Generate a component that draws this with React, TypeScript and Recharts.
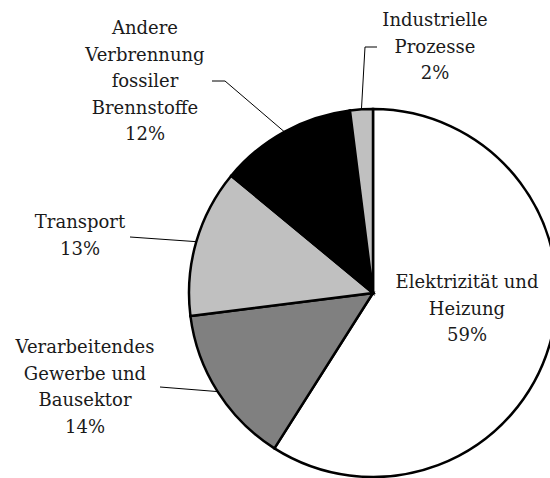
import React from "react";
import { Cell, Pie, PieChart } from "recharts";

// 排出源（上から時計回り）
const SECTORS: string[] = [
	"Elektrizität und Heizung",
	"Verarbeitendes Gewerbe und Bausektor",
	"Transport",
	"Andere Verbrennung fossiler Brennstoffe",
	"Industrielle Prozesse",
];
const SHARES: number[] = [59, 14, 13, 12, 2];
const LABEL_LINES: string[][] = [
	["Elektrizität und", "Heizung"],
	["Verarbeitendes", "Gewerbe und", "Bausektor"],
	["Transport"],
	["Andere", "Verbrennung", "fossiler", "Brennstoffe"],
	["Industrielle", "Prozesse"],
];
const FILLS: string[] = ["#ffffff", "#808080", "#c0c0c0", "#000000", "#c0c0c0"];

// ラベル位置（中心からのオフセット）
type LabelLayout = {
	text: [number, number];
	line?: [number, number][];
};
const LABEL_LAYOUT: LabelLayout[] = [
	{ text: [94, -11] },
	{ text: [-288, 54], line: [[-213, 94]] },
	{ text: [-293, -71], line: [[-243, -56]] },
	{ text: [-228, -265], line: [[-148, -212], [-161, -212]] },
	{ text: [62, -273], line: [[-8, -246], [4, -246]] },
];

const WIDTH = 550;
const HEIGHT = 478;
const CX = 373;
const CY = 293;
const RADIUS = 184;
const FONT_SIZE = 18;
const LINE_HEIGHT = 26.5;
const RADIAN = Math.PI / 180;

const data = SECTORS.map((name, i) => ({ name, value: SHARES[i] }));

const renderLabel = (props: any) => {
	const { cx, cy, midAngle, outerRadius, index, value } = props;
	const layout = LABEL_LAYOUT[index];
	const lines = [...LABEL_LINES[index], `${value}%`];
	const tx = cx + layout.text[0];
	const ty = cy + layout.text[1];
	let path = "";
	if (layout.line) {
		const ex = cx + outerRadius * Math.cos(-midAngle * RADIAN);
		const ey = cy + outerRadius * Math.sin(-midAngle * RADIAN);
		path = `M${ex},${ey}`;
		for (const [px, py] of layout.line) {
			path += ` L${cx + px},${cy + py}`;
		}
	}
	return (
		<g key={`label-${index}`}>
			{path && <path d={path} stroke="#000" strokeWidth={1} fill="none" />}
			<text
				x={tx}
				y={ty}
				textAnchor="middle"
				fontFamily="'DejaVu Serif', serif"
				fontSize={FONT_SIZE}
				fill="#1a1a1a"
			>
				{lines.map((line, i) => (
					<tspan key={line} x={tx} y={ty + i * LINE_HEIGHT} dy="0.35em">
						{line}
					</tspan>
				))}
			</text>
		</g>
	);
};

export default function App() {
	return (
		<div
			style={{
				position: "absolute",
				left: 0,
				top: 0,
				width: WIDTH,
				height: HEIGHT,
				background: "#fff",
			}}
		>
			<PieChart
				width={WIDTH}
				height={HEIGHT}
				margin={{ top: 0, right: 0, bottom: 0, left: 0 }}
			>
				<Pie
					data={data}
					dataKey="value"
					nameKey="name"
					cx={CX}
					cy={CY}
					outerRadius={RADIUS}
					startAngle={90}
					endAngle={-270}
					stroke="#000"
					strokeWidth={2.5}
					label={renderLabel}
					labelLine={false}
					isAnimationActive={false}
				>
					{data.map((entry, i) => (
						<Cell key={entry.name} fill={FILLS[i]} />
					))}
				</Pie>
			</PieChart>
		</div>
	);
}
